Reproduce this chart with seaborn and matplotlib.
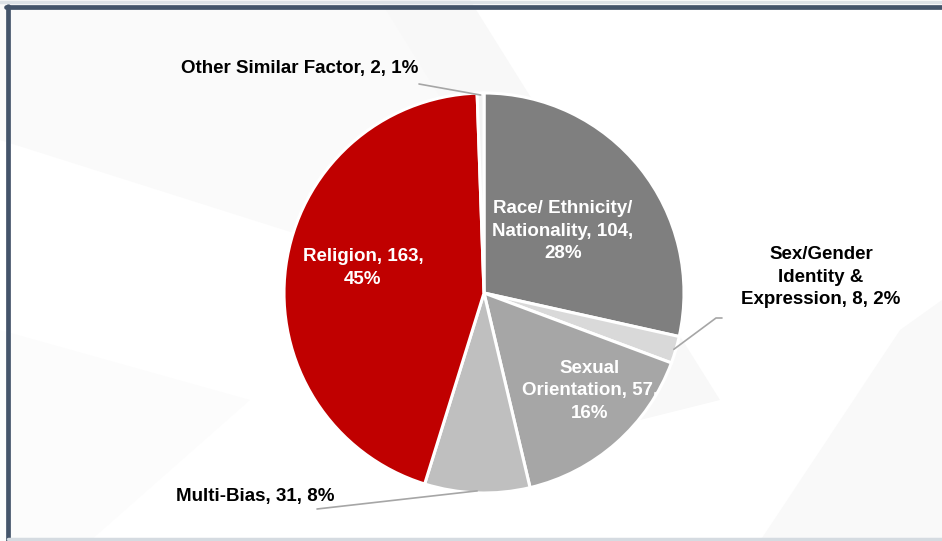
import numpy as np
import seaborn as sns
import matplotlib.pyplot as plt
from matplotlib.patches import Polygon
from matplotlib.lines import Line2D

# data
categories = ["Race/ Ethnicity/ Nationality", "Sex/Gender Identity & Expression",
              "Sexual Orientation", "Multi-Bias", "Religion", "Other Similar Factor"]
counts = [104, 8, 57, 31, 163, 2]
label_templates = ["Race/ Ethnicity/\nNationality, {v},\n{p}%",
                   "Sex/Gender\nIdentity &\nExpression, {v}, {p}%",
                   "Sexual\nOrientation, {v},\n{p}%",
                   "Multi-Bias, {v}, {p}%",
                   "Religion, {v},\n{p}%",
                   "Other Similar Factor, {v}, {p}%"]

sns.set_theme(style="white")
plt.rcParams['font.family'] = ['Liberation Sans', 'DejaVu Sans']

colors = ["#7f7f7f", "#d9d9d9", "#a6a6a6", "#bfbfbf", "#c00000", "#f2f2f2"]
inside = [True, False, True, False, True, False]
# label placement (data units of the pie axes, radius = 1)
label_pos = [(0.395, 0.31), (1.685, 0.08), (0.53, -0.49),
             (-1.145, -1.015), (-0.605, 0.125), (-0.92, 1.12)]
leaders = {1: [(1.19, -0.125), (1.16, -0.125)],
           3: [(-0.835, -1.08)],
           5: [(-0.325, 1.045)]}

fig = plt.figure(figsize=(9.42, 5.41), dpi=100)
fig.patch.set_facecolor("white")

# very faint diagonal background bands
bg = fig.add_axes([0, 0, 1, 1], zorder=-5)
bg.set_xlim(0, 942)
bg.set_ylim(541, 0)
bg.axis("off")
for poly, c in [([(0, 0), (380, 0), (600, 330), (0, 140)], "#fafafa"),
                ([(380, 0), (470, 0), (720, 400), (640, 420)], "#f8f8f8"),
                ([(0, 330), (0, 541), (90, 541), (250, 400)], "#fcfcfc"),
                ([(760, 541), (900, 330), (942, 300), (942, 541)], "#f9f9f9")]:
    bg.add_patch(Polygon(poly, closed=True, facecolor=c, edgecolor="none"))
# frame
bg.add_line(Line2D([8, 8], [6, 541], color="#44546a", lw=3.4))
bg.add_line(Line2D([6, 942], [7, 7], color="#44546a", lw=3.4))
bg.add_line(Line2D([0, 942], [2, 2], color="#dde2e7", lw=2.5))
bg.add_line(Line2D([8, 942], [539, 539], color="#d5dbe1", lw=2.5))

ax = fig.add_axes([284 / 942, 48 / 541, 400 / 942, 400 / 541])
wedges, _ = ax.pie(counts, colors=colors, startangle=90, counterclock=False,
                   wedgeprops=dict(edgecolor="white", linewidth=2.2))
ax.set_xlim(-1, 1)
ax.set_ylim(-1, 1)
ax.set_aspect("equal")
ax.axis("off")

total = sum(counts)
for i, w in enumerate(wedges):
    pct = int(round(counts[i] / total * 100))
    txt = label_templates[i].format(v=counts[i], p=pct)
    x, y = label_pos[i]
    ax.text(x, y, txt, ha="center", va="center", fontsize=13.5, fontweight="bold",
            color="white" if inside[i] else "black", linespacing=1.45,
            clip_on=False, zorder=5)
    if i in leaders:
        mid = np.deg2rad((w.theta1 + w.theta2) / 2)
        pts = leaders[i] + [(0.99 * np.cos(mid), 0.99 * np.sin(mid))]
        xs, ys = zip(*pts)
        ax.plot(xs, ys, color="#a6a6a6", lw=1.2, clip_on=False, zorder=4)

fig.savefig("out.png", dpi=100)
